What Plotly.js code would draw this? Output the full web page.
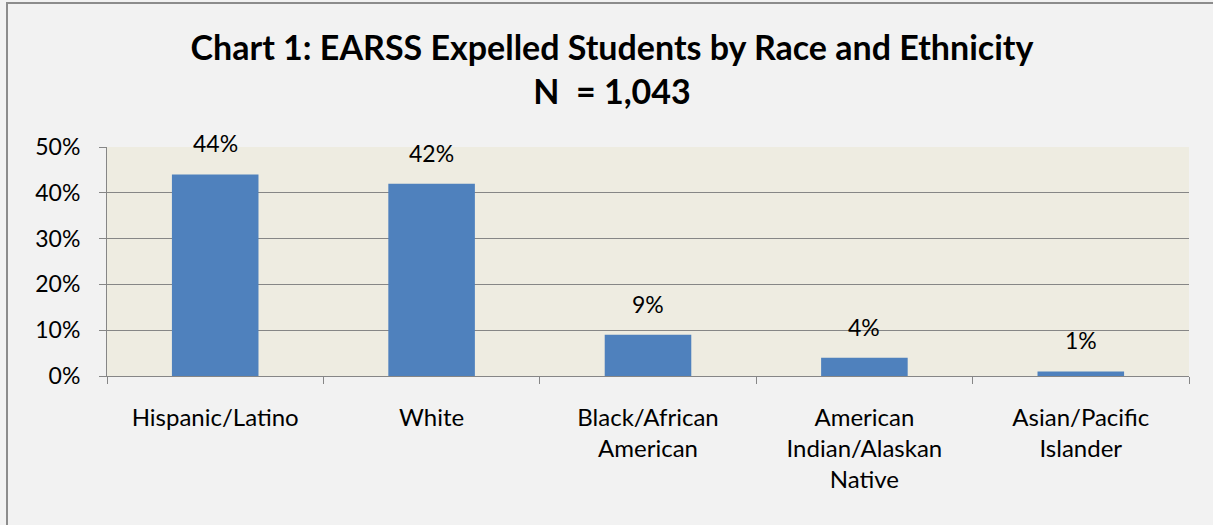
<!DOCTYPE html>
<html>
<head>
<meta charset="utf-8">
<script src="https://cdn.plot.ly/plotly-3.0.1.min.js"></script>
<style>
  html, body { margin: 0; padding: 0; background: #F2F2F2; }
  #frame { position: absolute; left: 0; top: 0; width: 1213px; height: 525px; }
  #edge { position: absolute; left: 6px; top: 2px; width: 1207px; height: 523px;
          border-left: 2px solid #8C8C8C; border-top: 2px solid #8C8C8C;
          box-sizing: border-box; pointer-events: none; }
</style>
</head>
<body>
<div id="frame"></div>
<div id="edge"></div>
<script>
// Expelled students by race and ethnicity (share of N = 1,043)
const categories = [
  "Hispanic/Latino",
  "White",
  "Black/African<br>American",
  "American<br>Indian/Alaskan<br>Native",
  "Asian/Pacific<br>Islander"
];
const shares = [0.44, 0.42, 0.09, 0.04, 0.01];
const shareLabels = ["44%", "42%", "9%", "4%", "1%"];
const yTicks = [0, 0.1, 0.2, 0.3, 0.4, 0.5];
const yTickLabels = ["0%", "10%", "20%", "30%", "40%", "50%"];

const FONT = "Lato, 'Open Sans', sans-serif";

const trace = {
  type: "bar",
  x: categories,
  y: shares,
  marker: { color: "#4F81BD", line: { width: 0 } },
  hoverinfo: "skip"
};

const labels = categories.map((c, i) => ({
  x: c, y: shares[i], xref: "x", yref: "y",
  text: shareLabels[i], showarrow: false,
  yanchor: "bottom", yshift: 15,
  font: { family: FONT, size: 23, color: "#000" }
}));

const layout = {
  width: 1213, height: 525,
  paper_bgcolor: "#F2F2F2",
  plot_bgcolor: "#EEECE1",
  margin: { l: 107, r: 24, t: 147, b: 149 },
  bargap: 0.6,
  showlegend: false,
  title: {
    text: "<b>Chart 1: EARSS Expelled Students by Race and Ethnicity<br>N&nbsp; = 1,043</b>",
    x: 612 / 1213, xanchor: "center", xref: "container",
    y: 1 - 60 / 525, yanchor: "top",
    font: { family: FONT, size: 34, color: "#000" }
  },
  xaxis: {
    type: "category",
    tickson: "boundaries",
    ticks: "outside", ticklen: 7, tickcolor: "#868686", tickwidth: 1,
    showline: true, linecolor: "#868686", linewidth: 1,
    showgrid: false, zeroline: false,
    tickfont: { family: FONT, size: 24, color: "#000" },
    ticklabelstandoff: 20
  },
  yaxis: {
    range: [0, 0.5],
    tickvals: yTicks, ticktext: yTickLabels,
    ticks: "outside", ticklen: 7, tickcolor: "#868686", tickwidth: 1,
    showline: true, linecolor: "#868686", linewidth: 1,
    showgrid: true, gridcolor: "#868686", gridwidth: 1,
    zeroline: false,
    tickfont: { family: FONT, size: 23, color: "#000" },
    ticklabelstandoff: 14
  },
  annotations: labels
};

Plotly.newPlot("frame", [trace], layout, { displayModeBar: false, staticPlot: true });
</script>
</body>
</html>
